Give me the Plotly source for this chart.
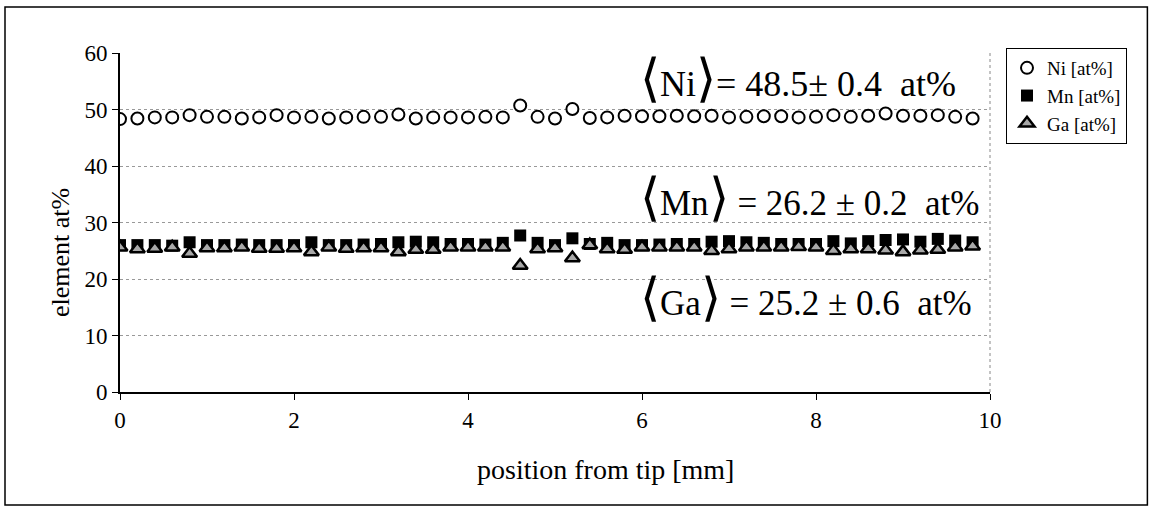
import plotly.graph_objects as go

position = [round(0.2 * i, 1) for i in range(50)]
ni = [48.3, 48.4, 48.6, 48.6, 49.0, 48.7, 48.7, 48.4, 48.6, 49.0,
      48.6, 48.7, 48.4, 48.6, 48.7, 48.7, 49.1, 48.4, 48.6, 48.6,
      48.6, 48.7, 48.6, 50.7, 48.7, 48.4, 50.1, 48.5, 48.6, 48.9,
      48.8, 48.8, 48.9, 48.8, 48.9, 48.6, 48.7, 48.8, 48.8, 48.6,
      48.7, 49.0, 48.7, 48.9, 49.3, 48.9, 48.9, 49.0, 48.7, 48.4]
mn = [26.0, 26.0, 26.0, 25.9, 26.5, 26.0, 26.0, 26.1, 26.0, 26.0,
      26.0, 26.5, 26.0, 26.0, 26.1, 26.2, 26.5, 26.6, 26.5, 26.2,
      26.2, 26.1, 26.4, 27.7, 26.4, 26.0, 27.2, 26.2, 26.4, 26.0,
      26.0, 26.1, 26.2, 26.2, 26.6, 26.7, 26.5, 26.4, 26.2, 26.2,
      26.2, 26.7, 26.3, 26.7, 26.9, 27.0, 26.6, 27.1, 26.8, 26.5]
ga = [25.6, 25.3, 25.4, 25.6, 24.5, 25.5, 25.5, 25.6, 25.4, 25.4,
      25.5, 24.8, 25.6, 25.4, 25.5, 25.5, 24.8, 25.2, 25.2, 25.6,
      25.6, 25.6, 25.6, 22.4, 25.3, 25.5, 23.7, 26.0, 25.3, 25.2,
      25.6, 25.6, 25.6, 25.6, 25.0, 25.3, 25.6, 25.6, 25.6, 25.7,
      25.6, 25.0, 25.3, 25.3, 25.1, 24.8, 25.1, 25.2, 25.6, 25.8]

FONT = "Liberation Serif, Times New Roman, serif"

fig = go.Figure()
fig.add_trace(go.Scatter(x=position, y=ni, mode="markers", name="Ni [at%]",
                         marker=dict(symbol="circle", size=12, color="white",
                                     line=dict(color="black", width=2))))
fig.add_trace(go.Scatter(x=position, y=mn, mode="markers", name="Mn [at%]",
                         marker=dict(symbol="square", size=12, color="black",
                                     line=dict(color="black", width=0))))
fig.add_trace(go.Scatter(x=position, y=ga, mode="markers", name="Ga [at%]",
                         marker=dict(symbol="triangle-up", size=13, color="#a8a8a8",
                                     line=dict(color="black", width=2.5))))

big = 'font-size:52px'
annots = [
    (78, 36, "<span style='%s'>⟨</span>Ni<span style='%s'>⟩</span>= 48.5± 0.4  at%%"),
    (197, 35, "<span style='%s'>⟨</span>Mn<span style='%s'>⟩</span> = 26.2 ± 0.2  at%%"),
    (297, 35, "<span style='%s'>⟨</span>Ga<span style='%s'>⟩</span> = 25.2 ± 0.6  at%%"),
]
for ypix, fs, tmpl in annots:
    fig.add_annotation(xref="paper", yref="paper", x=(638 - 120) / 870,
                       y=(392 - ypix) / 339, xanchor="left", yanchor="middle",
                       text=tmpl % (big, big), showarrow=False,
                       font=dict(family=FONT, size=fs, color="black"))

# axis titles placed as in the reference
fig.add_annotation(xref="paper", yref="paper", x=(605 - 120) / 870, y=(392 - 470) / 339,
                   xanchor="center", yanchor="middle", showarrow=False,
                   text="position from tip [mm]", font=dict(family=FONT, size=28))
fig.add_annotation(xref="paper", yref="paper", x=(60 - 120) / 870, y=(392 - 253) / 339,
                   xanchor="center", yanchor="middle", showarrow=False, textangle=-90,
                   text="element at%", font=dict(family=FONT, size=26))

fig.update_layout(
    width=1149, height=508,
    margin=dict(l=120, r=159, t=53, b=116, autoexpand=False),
    paper_bgcolor="white", plot_bgcolor="white",
    font=dict(family=FONT, size=20, color="black"),
    showlegend=True,
    legend=dict(x=1006 / 1149, y=1 - 48 / 508, xref="container", yref="container",
                xanchor="left", yanchor="top",
                bordercolor="black", borderwidth=1, bgcolor="white",
                font=dict(family=FONT, size=19), itemwidth=30,
                tracegroupgap=0),
    xaxis=dict(range=[0, 10], dtick=2, showgrid=False, zeroline=False,
               showline=True, linecolor="black", linewidth=2,
               ticks="outside", ticklen=6, tickcolor="black",
               tickfont=dict(size=23), mirror=False),
    yaxis=dict(range=[0, 60], dtick=10, showgrid=True, gridcolor="#999999",
               griddash="dot", gridwidth=1, zeroline=False,
               showline=True, linecolor="black", linewidth=2,
               ticks="outside", ticklen=6, tickcolor="black",
               tickfont=dict(size=23)),
    shapes=[
        dict(type="line", xref="paper", yref="paper", x0=1, x1=1, y0=0, y1=1,
             line=dict(color="#888888", width=1, dash="dot")),
        dict(type="rect", xref="paper", yref="paper",
             x0=-115 / 870, x1=1150 / 870 - 120 / 870 - 0.003,
             y0=-113 / 339, y1=1 + 46 / 339,
             line=dict(color="black", width=1.5)),
    ],
)

fig.write_html("out.html")
